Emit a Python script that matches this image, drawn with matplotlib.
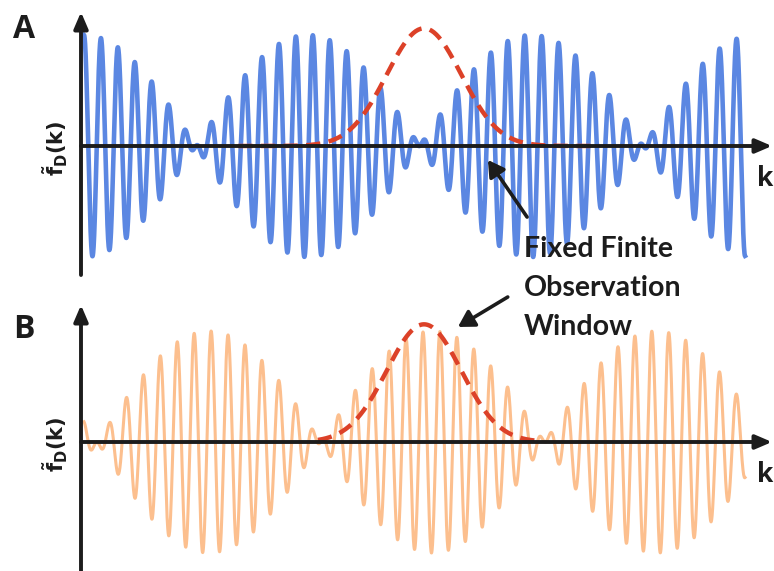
import numpy as np
import matplotlib
matplotlib.use("Agg")
import matplotlib.pyplot as plt

W, H, DPI = 774, 571, 100

# k measured in carrier periods; both signals cover the same range
k_range = (0.0, 39.0)
carrier_period = 1.0
node_spacing = 13.2          # distance between zeros of the beat envelope
node_a = -6.6                # panel A: envelope maximum sits at k = 0
node_b = 0.77                # panel B: envelope zero right after k = 0
carrier_phase_a = 0.0
carrier_phase_b = np.pi

# gaussian observation window
window_center = 20.06
window_sigma = 2.2
window_height = 1.06
window_span_a = (9.1, 30.4)
window_span_b = (13.8, 27.0)

BLUE = "#5b87e2"
ORANGE = "#fcbf8e"
RED = "#dc4128"
INK = "#1c1c1c"


def beat_signal(k, node, carrier_phase):
    env = np.sin(np.pi * (k - node) / node_spacing)
    return env * np.cos(2 * np.pi * k / carrier_period + carrier_phase)


def window(k):
    return window_height * np.exp(-0.5 * ((k - window_center) / window_sigma) ** 2)


def add_panel(fig, box, ylim, k, sig, color, lw, span, letter, letter_y):
    left, top, right, bottom = box
    ax = fig.add_axes([left / W, 1 - bottom / H, (right - left) / W, (bottom - top) / H])
    x0 = (left - 84) / 16.95
    x1 = (right - 84) / 16.95
    ax.set_xlim(x0, x1)
    ax.set_ylim(*ylim)
    ax.axis("off")

    ax.plot(k, sig, color=color, lw=lw, solid_joinstyle="round", zorder=2)
    kw = np.linspace(span[0], span[1], 300)
    ax.plot(kw, window(kw), color=RED, lw=3.2, dashes=(3.2, 1.9), zorder=3)

    arrow = dict(arrowstyle="-|>,head_length=0.7,head_width=0.3", lw=2.8,
                 color=INK, shrinkA=0, shrinkB=0, mutation_scale=14)
    ax.annotate("", xy=(x1, 0), xytext=(x0, 0), arrowprops=arrow, zorder=4,
                annotation_clip=False)
    ax.annotate("", xy=(x0, ylim[1]), xytext=(x0, ylim[0]), arrowprops=arrow,
                zorder=4, annotation_clip=False)

    fig.text(13 / W, 1 - letter_y / H, letter, fontsize=23, fontweight="bold",
             family="Open Sans", color=INK, va="center", ha="left")
    base_y = top + ylim[1] / (ylim[1] - ylim[0]) * (bottom - top)
    fig.text(55 / W, 1 - (base_y + 2) / H, r"$\mathbf{\tilde{f}_D(k)}$",
             fontsize=15, rotation=90, color=INK, ha="center", va="center")
    fig.text(757 / W, 1 - (base_y + 33) / H, "k", fontsize=19, fontweight="bold",
             family="Open Sans", color=INK, ha="left", va="center")
    return ax


plt.rcParams["mathtext.fontset"] = "dejavusans"
fig = plt.figure(figsize=(W / DPI, H / DPI), dpi=DPI)

k = np.linspace(k_range[0], k_range[1], 6000)
sig_a = beat_signal(k, node_a, carrier_phase_a)
sig_b = beat_signal(k, node_b, carrier_phase_b)

ax_a = add_panel(fig, (81, 12, 772, 275), (-1.162, 1.207), k, sig_a, BLUE, 3.3,
                 window_span_a, "A", 29)
ax_b = add_panel(fig, (81, 305, 772, 571), (-1.162, 1.234), k, sig_b, ORANGE, 2.2,
                 window_span_b, "B", 330)

fig.text(524 / W, 1 - 288 / H, "Fixed Finite\nObservation\nWindow", fontsize=20.5,
         fontweight="bold", family="Lato", color=INK, ha="left", va="center",
         linespacing=1.62)

pointer = dict(arrowstyle="-|>,head_length=0.6,head_width=0.35", lw=2.6,
               color=INK, shrinkA=0, shrinkB=0, mutation_scale=16)
ax_a.annotate("", xy=(23.83, -0.126), xytext=(26.14, -0.64), arrowprops=pointer,
              zorder=5, annotation_clip=False)
ax_b.annotate("", xy=(22.06, 1.036), xytext=(25.0, 1.306), arrowprops=pointer,
              zorder=5, annotation_clip=False)

fig.savefig("out.png", dpi=DPI)
